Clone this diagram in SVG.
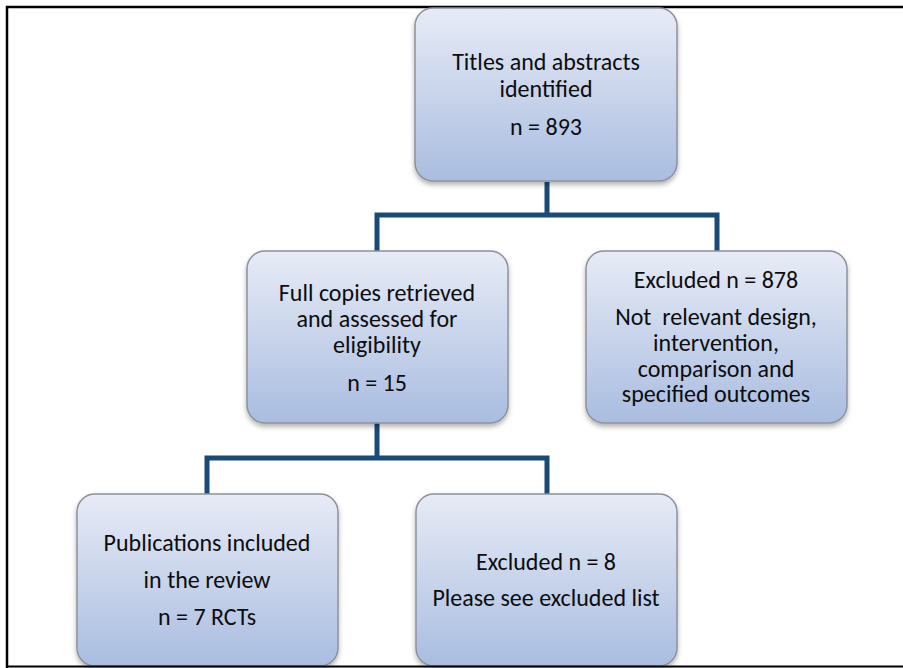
<svg xmlns="http://www.w3.org/2000/svg" width="903" height="668" viewBox="0 0 903 668">
<style>
.box{fill:url(#g);stroke:#8c929c;stroke-width:1.5}
.t{font-family:Carlito,"Liberation Sans",Arial,sans-serif;font-size:24px;fill:#0d0d0d;text-anchor:middle}
.c{fill:none;stroke:#1b4a78;stroke-width:5;stroke-linejoin:miter}
</style>
<defs>
<linearGradient id="g" x1="0" y1="0" x2="0" y2="1">
<stop offset="0" stop-color="#e7ebf6"/>
<stop offset="1" stop-color="#a9bde0"/>
</linearGradient>
<filter id="sh" x="-10%" y="-10%" width="120%" height="125%">
<feDropShadow dx="0" dy="3" stdDeviation="2.5" flood-color="#000" flood-opacity="0.3"/>
</filter>
</defs>
<rect width="903" height="668" fill="#fff"/>
<path d="M7,668 V7 H903" fill="none" stroke="#000" stroke-width="2.5"/>
<g id="connectors">
<path class="c" d="M547,182 V215"/>
<path class="c" d="M377,251 V215 H717 V251"/>
<path class="c" d="M377,423 V458"/>
<path class="c" d="M207,494 V458 H547 V494"/>
</g>
<g id="n1">
<rect class="box" filter="url(#sh)" x="415" y="8" width="262" height="173" rx="18"/>
<text class="t" x="546" y="70">Titles and abstracts</text>
<text class="t" x="546" y="97">identified</text>
<text class="t" x="546" y="135">n = 893</text>
</g>
<g id="n2">
<rect class="box" filter="url(#sh)" x="247" y="251" width="261" height="172" rx="18"/>
<text class="t" x="377" y="301">Full copies retrieved</text>
<text class="t" x="377" y="327">and assessed for</text>
<text class="t" x="377" y="353">eligibility</text>
<text class="t" x="377" y="391">n = 15</text>
</g>
<g id="n3">
<rect class="box" filter="url(#sh)" x="586" y="251" width="261" height="172" rx="18"/>
<text class="t" x="716" y="288">Excluded n = 878</text>
<text class="t" x="716" y="325" xml:space="preserve">Not  relevant design,</text>
<text class="t" x="716" y="351">intervention,</text>
<text class="t" x="716" y="377">comparison and</text>
<text class="t" x="716" y="402">specified outcomes</text>
</g>
<g id="n4">
<rect class="box" filter="url(#sh)" x="77" y="494" width="261" height="172" rx="18"/>
<text class="t" x="207" y="551">Publications included</text>
<text class="t" x="207" y="588">in the review</text>
<text class="t" x="207" y="625">n = 7 RCTs</text>
</g>
<g id="n5">
<rect class="box" filter="url(#sh)" x="416" y="494" width="261" height="172" rx="18"/>
<text class="t" x="546" y="570">Excluded n = 8</text>
<text class="t" x="546" y="606">Please see excluded list</text>
</g>
<line x1="7" y1="666.5" x2="903" y2="666.5" stroke="#000" stroke-width="2"/>
</svg>
